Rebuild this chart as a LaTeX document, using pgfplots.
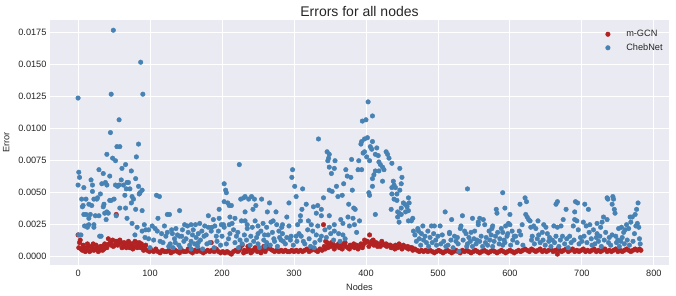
\documentclass[border=0pt]{standalone}
\usepackage{pgfplots}
\pgfplotsset{compat=1.18}
\usepackage{fontspec}
\setmainfont{Liberation Sans}
\definecolor{bgc}{HTML}{EAEAF2}
\definecolor{txt}{HTML}{262626}
\definecolor{mgcn}{HTML}{B22222}
\definecolor{cheb}{HTML}{4682B4}

\begin{document}
\begin{tikzpicture}
\useasboundingbox (0,0) rectangle (676bp,296bp);
\begin{axis}[
    at={(50bp,31bp)}, anchor=south west,
    width=619bp, height=245bp, scale only axis,
    xmin=-39, xmax=821,
    ymin=-0.00065, ymax=0.0185,
    axis background/.style={fill=bgc},
    axis line style={draw=none},
    major tick length=0pt,
    grid=major,
    grid style={white, line width=0.9bp},
    xtick={0,100,...,800},
    ytick={0,0.0025,0.005,0.0075,0.01,0.0125,0.015,0.0175},
    scaled y ticks=false,
    yticklabel style={/pgf/number format/fixed, /pgf/number format/fixed zerofill, /pgf/number format/precision=4},
    /pgf/number format/assume math mode=true,
    tick label style={font=\fontsize{9.2bp}{11bp}\selectfont, text=txt},
    xticklabel style={yshift=-1.5bp},
    title={Errors for all nodes},
    title style={font=\fontsize{14bp}{16bp}\selectfont, text=txt, yshift=-6bp},
    xlabel={Nodes}, ylabel={Error},
    label style={font=\fontsize{9.2bp}{11bp}\selectfont, text=txt},
    ylabel style={yshift=2bp},
    legend style={draw=none, fill=none, at={(0.998,0.975)}, anchor=north east,
        font=\fontsize{9.2bp}{11bp}\selectfont, text=txt, row sep=1.5bp},
    legend cell align=left,
    legend image code/.code={\path (0cm,0cm) (0.62cm,0cm); \draw[#1] plot coordinates {(0.05cm,0cm)};},
]

% m-GCN
\addplot[only marks, mark=*, mark size=2.3bp, color=mgcn] coordinates {
(0,0.0017) (1,0.0007) (3,0.0013) (4,0.0006) (6,0.0005) (9,0.0007) (12,0.0006) (15,0.0008)
(18,0.0005) (21,0.0010) (24,0.0006) (27,0.0007) (30,0.0005) (33,0.0008) (36,0.0006) (39,0.0009)
(42,0.0014) (45,0.0011) (48,0.0013) (51,0.0009) (53,0.0033) (54,0.0012) (57,0.0010) (60,0.0011)
(63,0.0008) (66,0.0010) (69,0.0009) (72,0.0007) (75,0.0010) (78,0.0008) (81,0.0011) (84,0.0009)
(87,0.0007) (90,0.0008) (93,0.0006) (96,0.0005) (99,0.0004) (102,0.0005) (105,0.0004) (108,0.0006)
(2,0.0011) (7,0.0009) (10,0.0004) (13,0.0010) (16,0.0004) (19,0.0008) (22,0.0005) (25,0.0009)
(28,0.0004) (31,0.0008) (34,0.0005) (37,0.0010) (40,0.0007) (43,0.0010) (46,0.0009) (49,0.0008)
(52,0.0012) (55,0.0009) (58,0.0013) (61,0.0007) (64,0.0011) (67,0.0007) (70,0.0012) (73,0.0010)
(76,0.0006) (79,0.0012) (82,0.0007) (85,0.0011) (88,0.0010) (91,0.0005) (94,0.0009)
(111,0.0004) (114,0.0003) (117,0.0005) (120,0.0004) (123,0.0004) (126,0.0005) (129,0.0003) (132,0.0004)
(135,0.0005) (138,0.0004) (141,0.0003) (144,0.0005) (147,0.0004) (150,0.0004) (153,0.0006) (156,0.0004)
(159,0.0003) (162,0.0005) (165,0.0004) (168,0.0005) (171,0.0004) (174,0.0003) (177,0.0004) (180,0.0005)
(183,0.0004) (185,0.0011) (186,0.0005) (189,0.0004) (192,0.0006) (195,0.0004) (198,0.0003) (201,0.0004)
(204,0.0003) (207,0.0004) (210,0.0003) (213,0.0002) (216,0.0004) (219,0.0005) (222,0.0004) (225,0.0007)
(228,0.0009) (231,0.0005) (234,0.0004) (237,0.0006) (240,0.0003) (243,0.0005) (246,0.0007) (249,0.0004)
(252,0.0006) (255,0.0005) (258,0.0008) (261,0.0006) (264,0.0009) (267,0.0006) (270,0.0005) (273,0.0004)
(224,0.0005) (230,0.0003) (236,0.0008) (242,0.0004) (248,0.0006) (254,0.0003) (260,0.0004) (266,0.0008)
(276,0.0005) (279,0.0004) (282,0.0005) (285,0.0004) (288,0.0005) (291,0.0004) (294,0.0004) (297,0.0005)
(300,0.0004) (303,0.0005) (306,0.0004) (309,0.0005) (312,0.0004) (315,0.0005) (318,0.0006) (321,0.0004)
(324,0.0005) (327,0.0006) (330,0.0005) (333,0.0004) (336,0.0006) (339,0.0005) (341,0.0025) (342,0.0008)
(344,0.0012) (346,0.0011) (348,0.0009) (351,0.0008) (354,0.0010) (357,0.0008) (360,0.0009) (363,0.0007)
(366,0.0009) (369,0.0010) (372,0.0008) (375,0.0007) (378,0.0009) (381,0.0008) (384,0.0007) (387,0.0009)
(390,0.0008) (393,0.0010) (396,0.0009) (399,0.0011) (402,0.0012) (405,0.0017) (406,0.0010) (408,0.0012)
(411,0.0009) (414,0.0011) (417,0.0010) (420,0.0008) (423,0.0010) (426,0.0009) (429,0.0008) (432,0.0009)
(435,0.0007) (438,0.0008) (441,0.0009) (444,0.0007) (447,0.0008) (450,0.0006) (453,0.0008) (456,0.0007)
(343,0.0006) (347,0.0007) (352,0.0011) (356,0.0006) (362,0.0010) (367,0.0006) (371,0.0011) (377,0.0006)
(383,0.0010) (389,0.0006) (395,0.0007) (398,0.0013) (404,0.0008) (410,0.0013) (416,0.0008) (422,0.0012)
(428,0.0010) (434,0.0009) (440,0.0006) (446,0.0010) (452,0.0009) (458,0.0008) (464,0.0007)
(459,0.0006) (462,0.0007) (465,0.0005) (468,0.0006) (471,0.0005) (474,0.0004) (477,0.0005) (480,0.0004)
(483,0.0005) (486,0.0004) (489,0.0005) (492,0.0004) (495,0.0003) (498,0.0004) (501,0.0005) (504,0.0004)
(507,0.0003) (510,0.0004) (513,0.0005) (516,0.0004) (519,0.0003) (522,0.0004) (525,0.0005) (528,0.0004)
(531,0.0003) (534,0.0005) (537,0.0004) (540,0.0005) (543,0.0004) (546,0.0003) (549,0.0004) (552,0.0005)
(555,0.0004) (558,0.0003) (561,0.0004) (564,0.0005) (567,0.0004) (570,0.0003) (573,0.0004) (576,0.0005)
(579,0.0004) (582,0.0003) (585,0.0004) (588,0.0005) (591,0.0004) (594,0.0003) (597,0.0004) (600,0.0005)
(603,0.0004) (606,0.0003) (609,0.0004) (612,0.0005) (615,0.0004) (618,0.0005) (621,0.0006) (624,0.0005)
(627,0.0004) (630,0.0006) (633,0.0005) (636,0.0004) (639,0.0005) (642,0.0006) (645,0.0004) (648,0.0005)
(651,0.0004) (654,0.0005) (657,0.0006) (660,0.0004) (663,0.0005) (666,0.0002) (667,0.0006) (669,0.0005)
(672,0.0004) (675,0.0005) (678,0.0006) (681,0.0004) (684,0.0005) (687,0.0006) (690,0.0004) (693,0.0005)
(696,0.0004) (699,0.0005) (702,0.0006) (705,0.0004) (708,0.0005) (711,0.0004) (714,0.0005) (717,0.0006)
(720,0.0004) (723,0.0005) (726,0.0004) (729,0.0005) (732,0.0006) (735,0.0004) (738,0.0005) (741,0.0004)
(744,0.0005) (747,0.0006) (750,0.0004) (753,0.0005) (756,0.0004) (759,0.0005) (762,0.0006) (765,0.0005)
(768,0.0004) (771,0.0005) (774,0.0006) (777,0.0005) (780,0.0006) (782,0.0005)
};
\addlegendentry{m-GCN}

% ChebNet
\addplot[only marks, mark=*, mark size=2.3bp, color=cheb] coordinates {
(0,0.0124) (0,0.0056) (1,0.0066) (2,0.0062) (1,0.0017) (4,0.0017) (5,0.0045) (6,0.0039)
(7,0.0040) (8,0.0054) (8,0.0033) (9,0.0024) (11,0.0045) (11,0.0033) (12,0.0024) (13,0.0023)
(15,0.0041) (15,0.0030) (15,0.0025) (17,0.0033) (18,0.0060) (19,0.0040) (20,0.0056) (20,0.0051)
(22,0.0045) (22,0.0025) (22,0.0023) (24,0.0032) (26,0.0045) (27,0.0046) (29,0.0068) (29,0.0032)
(30,0.0016) (31,0.0049) (32,0.0016) (33,0.0057) (35,0.0065) (35,0.0039) (36,0.0041) (37,0.0034)
(38,0.0058) (39,0.0029) (40,0.0080) (40,0.0056) (40,0.0035) (42,0.0034) (44,0.0063) (44,0.0044)
(45,0.0097) (46,0.0127) (46,0.0044) (48,0.0077) (49,0.0177) (50,0.0045) (52,0.0075) (52,0.0056)
(53,0.0032) (54,0.0086) (55,0.0055) (57,0.0107) (57,0.0056) (58,0.0086) (58,0.0038) (60,0.0060)
(61,0.0069) (63,0.0056) (65,0.0048) (66,0.0038) (66,0.0072) (67,0.0053) (68,0.0030) (68,0.0058)
(70,0.0058) (72,0.0053) (74,0.0067) (74,0.0042) (75,0.0047) (75,0.0026) (77,0.0045) (79,0.0017)
(80,0.0061) (80,0.0037) (81,0.0078) (82,0.0023) (84,0.0088) (84,0.0055) (85,0.0049) (86,0.0050)
(87,0.0152) (89,0.0052) (89,0.0036) (89,0.0020) (90,0.0127) (92,0.0025) (93,0.0015) (94,0.0021)
(98,0.0021) (98,0.0014) (100,0.0007)
(103,0.0024) (105,0.0013) (107,0.0022) (109,0.0048) (110,0.0020) (111,0.0030) (113,0.0047) (114,0.0012)
(116,0.0018) (118,0.0011) (120,0.0024) (122,0.0016) (124,0.0033) (124,0.0019) (126,0.0008) (127,0.0033)
(128,0.0010) (130,0.0021) (131,0.0018) (132,0.0007) (134,0.0014) (135,0.0011) (136,0.0022) (138,0.0017)
(140,0.0009) (141,0.0036) (141,0.0016) (142,0.0007) (144,0.0016) (145,0.0021) (147,0.0012) (148,0.0025)
(150,0.0014) (152,0.0024) (153,0.0019) (155,0.0009) (157,0.0025) (157,0.0012) (157,0.0006) (159,0.0017)
(160,0.0021) (162,0.0010) (163,0.0025) (164,0.0015) (166,0.0008) (167,0.0018) (167,0.0011) (169,0.0026)
(170,0.0013) (172,0.0020) (173,0.0006) (175,0.0016)
(176,0.0024) (178,0.0017) (179,0.0010) (181,0.0032) (181,0.0023) (183,0.0011) (185,0.0020) (186,0.0023)
(188,0.0029) (189,0.0007) (190,0.0024) (192,0.0016) (193,0.0012) (195,0.0020) (196,0.0030) (196,0.0037)
(198,0.0009) (199,0.0025) (200,0.0016) (202,0.0025) (203,0.0057) (203,0.0043) (203,0.0023) (205,0.0052)
(206,0.0050) (206,0.0010) (208,0.0042) (209,0.0014) (210,0.0040) (210,0.0025) (211,0.0031) (211,0.0018)
(213,0.0040) (214,0.0026) (216,0.0021) (218,0.0030) (218,0.0011) (220,0.0016) (222,0.0019) (223,0.0007)
(224,0.0072) (225,0.0013) (226,0.0045) (227,0.0028) (228,0.0010) (230,0.0046) (231,0.0017) (232,0.0047)
(232,0.0035) (232,0.0028) (234,0.0013) (235,0.0025) (235,0.0022) (237,0.0045) (239,0.0009) (240,0.0016)
(241,0.0047) (242,0.0023) (243,0.0037) (244,0.0012) (245,0.0045) (246,0.0028) (247,0.0040) (248,0.0015)
(250,0.0024) (250,0.0018) (250,0.0010) (252,0.0007) (254,0.0020) (255,0.0045) (257,0.0026) (258,0.0013)
(259,0.0017) (260,0.0008) (262,0.0023) (262,0.0011) (263,0.0035) (264,0.0017) (266,0.0042) (267,0.0009)
(268,0.0027) (270,0.0019) (271,0.0028) (272,0.0014) (273,0.0012) (275,0.0035) (276,0.0025) (277,0.0008)
(279,0.0020) (280,0.0015) (282,0.0013) (283,0.0023)
(284,0.0025) (284,0.0018) (285,0.0012) (288,0.0010) (290,0.0031) (290,0.0015) (293,0.0042) (293,0.0024)
(295,0.0013) (296,0.0016) (297,0.0062) (298,0.0068) (299,0.0009) (301,0.0055) (303,0.0047) (303,0.0016)
(304,0.0012) (305,0.0025) (307,0.0018) (309,0.0028) (309,0.0032) (310,0.0016) (311,0.0037) (312,0.0053)
(313,0.0012) (315,0.0010) (317,0.0041) (319,0.0021) (320,0.0028) (321,0.0014) (323,0.0008) (324,0.0025)
(326,0.0020) (327,0.0039) (328,0.0007) (329,0.0011) (331,0.0034) (331,0.0017) (333,0.0040) (333,0.0024)
(334,0.0092) (336,0.0013) (338,0.0037) (338,0.0032) (338,0.0016) (341,0.0046) (343,0.0021) (345,0.0015)
(346,0.0082) (347,0.0075) (348,0.0077) (349,0.0080) (349,0.0070) (349,0.0052) (349,0.0032) (349,0.0023)
(351,0.0018) (352,0.0065) (353,0.0051) (355,0.0013) (356,0.0069) (356,0.0025) (356,0.0020) (357,0.0075)
(359,0.0055) (361,0.0047) (362,0.0018) (364,0.0012) (365,0.0029) (367,0.0048) (368,0.0026) (368,0.0017)
(369,0.0057) (371,0.0014) (372,0.0068) (374,0.0063) (375,0.0031) (376,0.0041) (377,0.0024) (379,0.0062)
(380,0.0076) (381,0.0052) (382,0.0030) (383,0.0038) (384,0.0025) (385,0.0037) (387,0.0019) (389,0.0068)
(390,0.0075) (391,0.0028)
(393,0.0088) (394,0.0068) (394,0.0090) (395,0.0106) (396,0.0081) (398,0.0082) (398,0.0092) (400,0.0107)
(401,0.0078) (402,0.0093) (403,0.0121) (404,0.0050) (405,0.0048) (405,0.0075) (406,0.0086) (408,0.0084)
(409,0.0090) (409,0.0110) (409,0.0061) (409,0.0055) (411,0.0064) (413,0.0067) (413,0.0080) (413,0.0033)
(415,0.0085) (417,0.0079) (418,0.0074) (418,0.0067) (420,0.0072) (423,0.0070) (423,0.0059) (425,0.0068)
(428,0.0082) (430,0.0080) (432,0.0077) (435,0.0037) (436,0.0073) (436,0.0054) (436,0.0049) (438,0.0059)
(439,0.0056) (439,0.0045) (441,0.0054) (443,0.0049) (443,0.0044) (444,0.0035) (444,0.0031) (446,0.0034)
(446,0.0027) (447,0.0069) (447,0.0052) (449,0.0057) (449,0.0038) (449,0.0033) (450,0.0062) (452,0.0042)
(454,0.0041) (455,0.0035) (457,0.0039) (459,0.0046) (459,0.0036) (459,0.0028) (460,0.0042) (463,0.0028)
(465,0.0030) (466,0.0020) (468,0.0017) (470,0.0012) (472,0.0022) (473,0.0020) (474,0.0014) (476,0.0009)
(477,0.0018) (479,0.0024) (480,0.0013) (482,0.0016) (484,0.0011) (486,0.0020) (487,0.0008) (489,0.0015)
(491,0.0024) (492,0.0011) (494,0.0018) (495,0.0024) (497,0.0013) (498,0.0009)
(500,0.0016) (503,0.0024) (504,0.0010) (506,0.0017) (508,0.0012) (510,0.0035) (511,0.0008) (514,0.0009)
(516,0.0019) (516,0.0018) (518,0.0013) (519,0.0029) (521,0.0007) (523,0.0016) (525,0.0012) (527,0.0015)
(528,0.0010) (529,0.0004) (531,0.0022) (532,0.0024) (534,0.0032) (535,0.0013) (537,0.0020) (539,0.0018)
(540,0.0008) (541,0.0053) (541,0.0010) (543,0.0015) (545,0.0012) (546,0.0019) (548,0.0030) (548,0.0008)
(550,0.0014) (551,0.0020) (553,0.0010) (554,0.0013) (556,0.0027) (556,0.0025) (558,0.0012) (558,0.0030)
(560,0.0016) (562,0.0008) (563,0.0029) (565,0.0025) (566,0.0011) (567,0.0015) (569,0.0009) (571,0.0020)
(572,0.0013) (574,0.0017) (575,0.0022) (576,0.0024) (576,0.0008) (578,0.0012) (580,0.0016) (581,0.0037)
(582,0.0034) (583,0.0019) (585,0.0010) (586,0.0014) (588,0.0022) (590,0.0050) (590,0.0019) (590,0.0009)
(592,0.0013) (593,0.0038) (593,0.0011) (594,0.0024) (596,0.0016) (597,0.0018) (598,0.0026) (600,0.0033)
(600,0.0025) (601,0.0009) (603,0.0020) (604,0.0013) (606,0.0016)
(608,0.0016) (610,0.0011) (613,0.0020) (614,0.0041) (615,0.0017) (617,0.0025) (618,0.0009) (621,0.0046)
(622,0.0033) (623,0.0043) (624,0.0031) (626,0.0029) (628,0.0028) (629,0.0023) (630,0.0013) (631,0.0016)
(633,0.0024) (634,0.0010) (636,0.0022) (638,0.0014) (639,0.0028) (640,0.0017) (642,0.0011) (645,0.0019)
(646,0.0013) (647,0.0025) (649,0.0009) (650,0.0023) (652,0.0018) (654,0.0012) (655,0.0015) (657,0.0008)
(659,0.0013) (661,0.0024) (662,0.0011) (664,0.0041) (664,0.0016) (666,0.0043) (666,0.0023) (668,0.0008)
(670,0.0013) (671,0.0024) (673,0.0016) (674,0.0029) (676,0.0010) (678,0.0037) (679,0.0014) (681,0.0007)
(683,0.0016) (685,0.0011) (688,0.0024) (689,0.0013) (690,0.0029) (690,0.0035) (691,0.0043) (693,0.0028)
(694,0.0042) (695,0.0021) (696,0.0010) (698,0.0015) (700,0.0012) (702,0.0027) (703,0.0016) (704,0.0041)
(706,0.0024) (707,0.0011) (709,0.0037) (710,0.0019) (711,0.0025) (713,0.0014) (714,0.0009)
(716,0.0021) (718,0.0010) (720,0.0015) (721,0.0018) (721,0.0026) (723,0.0012) (725,0.0016) (726,0.0023)
(727,0.0008) (728,0.0027) (730,0.0031) (731,0.0013) (733,0.0019) (735,0.0029) (735,0.0046) (736,0.0045)
(737,0.0011) (738,0.0015) (740,0.0009) (742,0.0041) (742,0.0017) (743,0.0047) (744,0.0045) (745,0.0037)
(746,0.0034) (747,0.0016) (748,0.0011) (750,0.0013) (751,0.0022) (752,0.0008) (754,0.0012) (755,0.0023)
(756,0.0015) (758,0.0019) (759,0.0010) (760,0.0021) (762,0.0025) (763,0.0013) (765,0.0022) (766,0.0009)
(767,0.0031) (768,0.0027) (770,0.0031) (771,0.0012) (773,0.0018) (774,0.0033) (775,0.0024) (776,0.0037)
(777,0.0026) (778,0.0042) (779,0.0023) (780,0.0014) (781,0.0010)
};
\addlegendentry{ChebNet}

\end{axis}
\end{tikzpicture}
\end{document}
